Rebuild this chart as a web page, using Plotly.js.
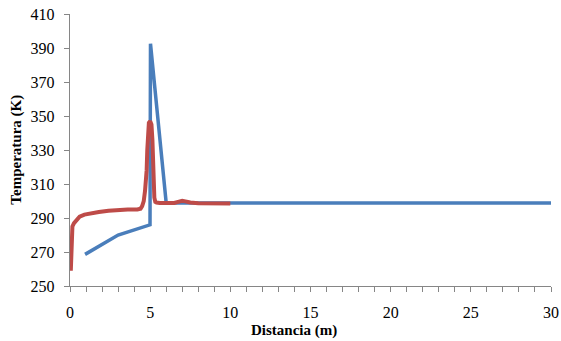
<!DOCTYPE html>
<html>
<head>
<meta charset="utf-8">
<script src="https://cdn.plot.ly/plotly-3.0.1.min.js"></script>
<style>html,body{margin:0;padding:0;background:#fff;}#chart{width:561px;height:341px;}</style>
</head>
<body>
<div id="chart"></div>
<script>
// Blue series
const blueX = [0.94, 3.0, 4.99, 5.02, 6.0, 10, 20, 30];
const blueT = [268.6, 280, 286, 392.5, 298.8, 298.8, 298.8, 298.8];
// Red series
const redX = [0.05, 0.07, 0.1, 0.12, 0.15, 0.25, 0.4, 0.6, 0.9, 1.3, 1.8, 2.4, 3.0, 3.6, 4.2, 4.4, 4.5, 4.6, 4.68, 4.72, 4.78, 4.82, 4.86, 4.92, 5.0, 5.08, 5.14, 5.18, 5.22, 5.26, 5.32, 5.4, 5.6, 6.0, 6.5, 6.8, 7.0, 7.2, 7.5, 8, 9, 10];
const redT = [259, 264, 266, 276, 285, 287, 289, 290.8, 292, 292.8, 293.5, 294.3, 294.8, 295, 295, 295.5, 297, 300, 306, 310, 318, 330, 340, 346, 347, 345, 336, 322, 310, 302, 299.5, 299.1, 298.8, 298.6, 298.8, 299.6, 300.1, 299.8, 299.1, 298.7, 298.6, 298.6];
const xTicks = [0, 5, 10, 15, 20, 25, 30];
const yTicks = [250, 270, 290, 310, 330, 350, 370, 390, 410];

const font = {family: 'Liberation Serif, Times New Roman, serif', color: '#000'};
const traces = [
  {x: blueX, y: blueT, mode: 'lines', line: {color: '#4A7EBB', width: 3.5}, hoverinfo: 'skip'},
  {x: redX, y: redT, mode: 'lines', line: {color: '#BE4B48', width: 4}, hoverinfo: 'skip'}
];
const layout = {
  width: 561, height: 341,
  margin: {l: 70, r: 10, t: 14, b: 55},
  paper_bgcolor: '#fff', plot_bgcolor: '#fff',
  showlegend: false,
  font: Object.assign({size: 16}, font),
  xaxis: {
    range: [0, 30], tickvals: xTicks, ticktext: xTicks.map(String),
    showgrid: false, zeroline: false, showline: true, linecolor: '#868686', linewidth: 1.3,
    ticks: 'outside', ticklen: 5, tickcolor: '#868686', tickwidth: 1,
    minor: {dtick: 1, ticks: 'outside', ticklen: 5, tickcolor: '#868686', showgrid: false},
    tickfont: Object.assign({size: 16}, font), ticklabelstandoff: 6
  },
  yaxis: {
    range: [250, 410], tickvals: yTicks, ticktext: yTicks.map(String),
    showgrid: false, zeroline: false, showline: true, linecolor: '#868686', linewidth: 1.3,
    ticks: 'outside', ticklen: 5, tickcolor: '#868686', tickwidth: 1,
    tickfont: Object.assign({size: 16}, font), ticklabelstandoff: 6
  },
  annotations: [
    {text: '<b>Distancia (m)</b>', xref: 'paper', yref: 'paper', x: 0.466, y: -0.165, xanchor: 'center', yanchor: 'middle', showarrow: false, font: Object.assign({size: 15}, font)},
    {text: '<b>Temperatura (K)</b>', xref: 'paper', yref: 'paper', x: -0.113, y: 0.5, xanchor: 'center', yanchor: 'middle', textangle: -90, showarrow: false, font: Object.assign({size: 15}, font)}
  ]
};
Plotly.newPlot('chart', traces, layout, {staticPlot: true, displayModeBar: false});
</script>
</body>
</html>
